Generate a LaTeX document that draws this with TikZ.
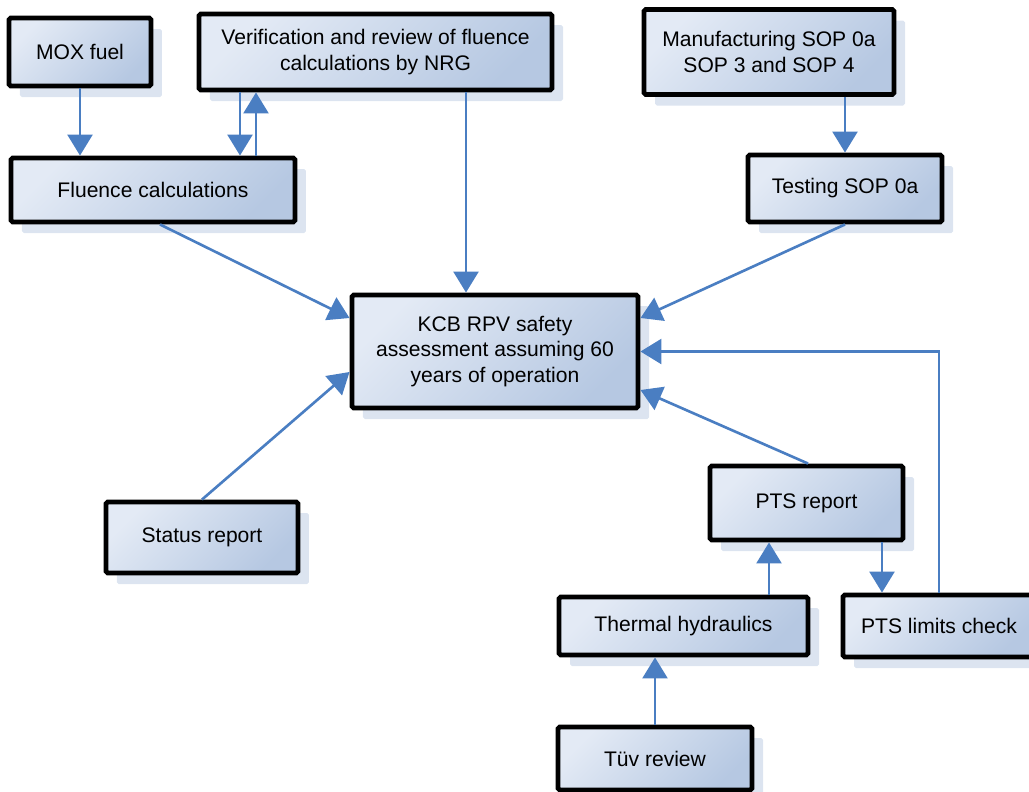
\documentclass[tikz,border=0pt]{standalone}
\usepackage{fontspec}
\setmainfont{Liberation Sans}
\usetikzlibrary{arrows.meta,calc,shadows}
\definecolor{boxlight}{HTML}{E3EAF5}
\definecolor{boxdark}{HTML}{B6C8E2}
\definecolor{shadowblue}{HTML}{DCE4F0}
\definecolor{flowblue}{HTML}{4A7EC2}

\begin{document}
\begin{tikzpicture}[x=0.02cm,y=-0.02cm]
    \tikzstyle{every node}+=[font=\fontsize{12}{14.4}\selectfont]
    \tikzstyle{task}=[draw=black, line width=2.8pt, rounded corners=1pt, align=center, inner sep=0pt,
        top color=boxlight, bottom color=boxdark, shading angle=45,
        drop shadow={shadow xshift=0.22cm, shadow yshift=-0.22cm, fill=shadowblue, opacity=1}]
    \tikzstyle{flow}=[draw=flowblue, line width=1.5pt, -{Triangle[width=0.5cm,length=0.42cm]}]
    \useasboundingbox (0,0) rectangle (1029,792);
    \node [task, minimum width=142*0.02cm, minimum height=68*0.02cm] (mox) at (80,52) {MOX fuel};
    \node [task, minimum width=353*0.02cm, minimum height=76*0.02cm] (verif) at (375.5,52) {Verification and review of fluence\\calculations by NRG};
    \node [task, minimum width=250*0.02cm, minimum height=85*0.02cm] (manu) at (769,52) {Manufacturing SOP 0a\\SOP 3 and SOP 4};
    \node [task, minimum width=284*0.02cm, minimum height=64*0.02cm] (fluence) at (153,190) {Fluence calculations};
    \node [task, minimum width=194*0.02cm, minimum height=67*0.02cm] (testing) at (845,188.5) {Testing SOP 0a};
    \node [task, minimum width=286*0.02cm, minimum height=113*0.02cm] (kcb) at (495,351.5) {KCB RPV safety\\assessment assuming 60\\years of operation};
    \node [task, minimum width=192*0.02cm, minimum height=71*0.02cm] (status) at (202,537.5) {Status report};
    \node [task, minimum width=193*0.02cm, minimum height=74*0.02cm] (ptsrep) at (806.5,503) {PTS report};
    \node [task, minimum width=249*0.02cm, minimum height=58*0.02cm] (thermal) at (683.5,626) {Thermal hydraulics};
    \node [task, minimum width=192*0.02cm, minimum height=62*0.02cm] (limits) at (939,626) {PTS limits check};
    \node [task, minimum width=194*0.02cm, minimum height=63*0.02cm] (tuv) at (655,758.5) {Tüv review};
    % connectors
    \coordinate (vdown) at ($(verif.south)+(-135.5,0)$);
    \coordinate (vup) at ($(fluence.north)+(103,0)$);
    \coordinate (vkcb) at ($(verif.south)+(90.5,0)$);
    \coordinate (rlim) at ($(ptsrep.south)+(75.5,0)$);
    \coordinate (trep) at ($(thermal.north)+(85.5,0)$);
    \draw [flow] (mox.south) -- (mox.south |- fluence.north);
    \draw [flow] (vdown) -- (vdown |- fluence.north);
    \draw [flow] (vup) -- (vup |- verif.south);
    \draw [flow] (vkcb) -- (vkcb |- kcb.north);
    \draw [flow] (testing.north |- manu.south) -- (testing.north);
    \draw [flow] ($(fluence.south)+(7,0)$) -- ($(kcb.west)+(0,-33.5)$);
    \draw [flow] (testing.south) -- ($(kcb.east)+(0,-33.5)$);
    \draw [flow] (status.north) -- ($(kcb.west)+(0,20.5)$);
    \draw [flow] ($(ptsrep.north)+(1.5,0)$) -- ($(kcb.east)+(0,38.5)$);
    \draw [flow] (limits.north) |- (kcb.east);
    \draw [flow] (rlim) -- (rlim |- limits.north);
    \draw [flow] (trep) -- (trep |- ptsrep.south);
    \draw [flow] (tuv.north) -- (tuv.north |- thermal.south);
\end{tikzpicture}
\end{document}
